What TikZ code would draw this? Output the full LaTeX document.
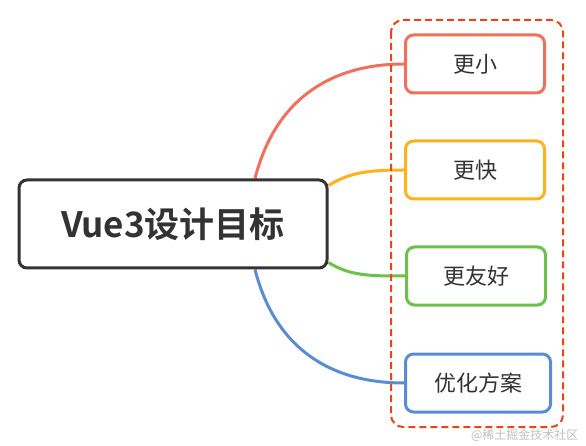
\documentclass[tikz,border=0pt]{standalone}
\usepackage{fontspec}
\usepackage{xcolor}
\usetikzlibrary{backgrounds}
\newfontfamily\cjk{Noto Sans CJK SC}
\newfontfamily\cjkbold{Noto Sans CJK SC Bold}

\definecolor{rootgray}{HTML}{333333}
\definecolor{branchred}{HTML}{F0705E}
\definecolor{branchyellow}{HTML}{FFB21C}
\definecolor{branchgreen}{HTML}{6DC04C}
\definecolor{branchblue}{HTML}{5A8CD4}
\definecolor{framered}{HTML}{E8461A}

\tikzset{
  rootbox/.style={draw=rootgray, line width=3pt, rounded corners=8pt,
    minimum width=308pt, minimum height=88pt, fill=white,
    font=\cjkbold\fontsize{35}{35}\selectfont, text=rootgray},
  leafbox/.style={draw=#1, line width=3pt, rounded corners=8pt,
    minimum width=139pt, minimum height=58pt, fill=white,
    font=\cjk\fontsize{22}{22}\selectfont, text=rootgray},
  branch/.style={draw=#1, line width=3pt}
}

\begin{document}
\begin{tikzpicture}[x=1pt,y=-1pt]
\useasboundingbox (0,0) rectangle (586,446);
% nodes
\node[rootbox] (root) at (173,224) {Vue3设计目标};
\node[leafbox=branchred] (small) at (475,64) {更小};
\node[leafbox=branchyellow] (fast) at (475,170) {更快};
\node[leafbox=branchgreen] (friendly) at (476,276) {更友好};
\node[leafbox=branchblue, minimum width=145pt] (plan) at (478,383) {优化方案};
\node[font=\cjk\fontsize{12}{12}\selectfont, text=gray!50, anchor=east] (mark) at (582,435) {@稀土掘金技术社区};
\begin{scope}[on background layer]
% branches
\draw[branch=branchred] ([xshift=82pt]root.north) .. controls (275,100) and (330,64) .. (small.west);
\draw[branch=branchyellow] ([yshift=-7pt]root.north east) .. controls (350,172) and (370,170) .. (fast.west);
\draw[branch=branchgreen] ([yshift=7pt]root.south east) .. controls (350,276) and (370,276) .. (friendly.west);
\draw[branch=branchblue] ([xshift=82pt]root.south) .. controls (275,348) and (330,383) .. (plan.west);
% dashed frame round the goals
\draw[framered, line width=2pt, dash pattern=on 7pt off 4pt, rounded corners=12pt]
  (391,20) rectangle (563,427);
\end{scope}
\end{tikzpicture}
\end{document}
